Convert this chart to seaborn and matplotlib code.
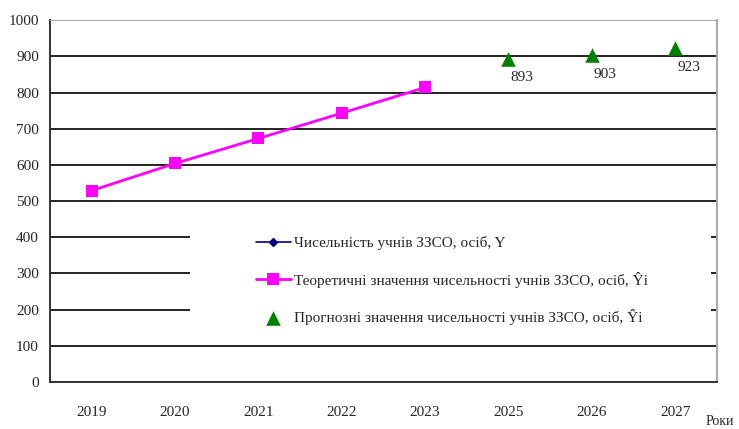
import numpy as np
import pandas as pd
import seaborn as sns
import matplotlib.pyplot as plt
from matplotlib.patches import Rectangle

# Data
years = ['2019', '2020', '2021', '2022', '2023', '2025', '2026', '2027']
theor_years = ['2019', '2020', '2021', '2022', '2023']
theor_vals = [529, 604, 673, 743, 814]
fc_years = ['2025', '2026', '2027']
fc_vals = [893, 903, 923]

lab_y = 'Чисельність учнів ЗЗСО, осіб, Y'
lab_t = 'Теоретичні значення чисельності учнів ЗЗСО, осіб, Ŷі'
lab_f = 'Прогнозні значення чисельності учнів ЗЗСО, осіб, Ŷі'

sns.set_style('white')
plt.rcParams['font.family'] = ['Liberation Serif', 'DejaVu Serif']

pos = {y: i for i, y in enumerate(years)}
df_t = pd.DataFrame({'x': [pos[y] for y in theor_years], 'v': theor_vals})
df_f = pd.DataFrame({'x': [pos[y] for y in fc_years], 'v': fc_vals})

fig = plt.figure(figsize=(7.39, 4.29), dpi=100)
ax = fig.add_axes([0.0677, 0.1096, 0.9023, 0.8434])

# empty actual series (only in legend)
ax.plot([], [], color='#000080', marker='D', markersize=4, lw=1.2, label=lab_y)
sns.lineplot(data=df_t, x='x', y='v', ax=ax, color='magenta', lw=2,
             marker='s', markersize=9, markeredgewidth=0, label=lab_t)
sns.scatterplot(data=df_f, x='x', y='v', ax=ax, color='green', marker='^',
                s=110, linewidth=0, label=lab_f, zorder=5)

for x, v in zip(df_f['x'], df_f['v']):
    ax.annotate(str(v), (x, v), xytext=(2, -19), textcoords='offset pixels',
                ha='left', va='center', fontsize=11)

ax.set_xlim(-0.5, len(years) - 0.5)
ax.set_ylim(0, 1000)
ax.set_yticks(range(0, 1001, 100))
ax.set_xticks(range(len(years)))
ax.set_xticklabels(years)
ax.set_xticks(np.arange(-0.5, len(years)), minor=True)
ax.tick_params(axis='x', which='major', length=0, pad=17, labelsize=11)
ax.tick_params(axis='x', which='minor', length=5, width=1.2, color='#333333', direction='out')
ax.tick_params(axis='y', length=5, width=1.2, color='#333333', direction='out', labelsize=11, pad=3)
ax.set_xlabel('')
ax.set_ylabel('')

ax.grid(axis='y', color='#222222', lw=1.4)
ax.set_axisbelow(True)
for s in ['left', 'bottom']:
    ax.spines[s].set_color('#333333')
    ax.spines[s].set_linewidth(1.4)
ax.spines['top'].set_color('#aaaaaa')
ax.spines['right'].set_color('#aaaaaa')
ax.spines['right'].set_linewidth(1.5)

ax.text(0.983, -0.11, 'Роки', transform=ax.transAxes, ha='left', va='center', fontsize=10)

# white legend area covering the gridlines
ax.add_patch(Rectangle((0.21, 0.122), 0.782, 0.312, transform=ax.transAxes,
                       facecolor='white', edgecolor='none', zorder=1.5))

leg = ax.legend(loc='upper left', bbox_to_anchor=(0.29, 0.436), frameon=False,
                fontsize=11, handlelength=2.3, labelspacing=1.4, borderpad=0.3,
                handletextpad=0.2)

fig.savefig('out.png', dpi=100)
